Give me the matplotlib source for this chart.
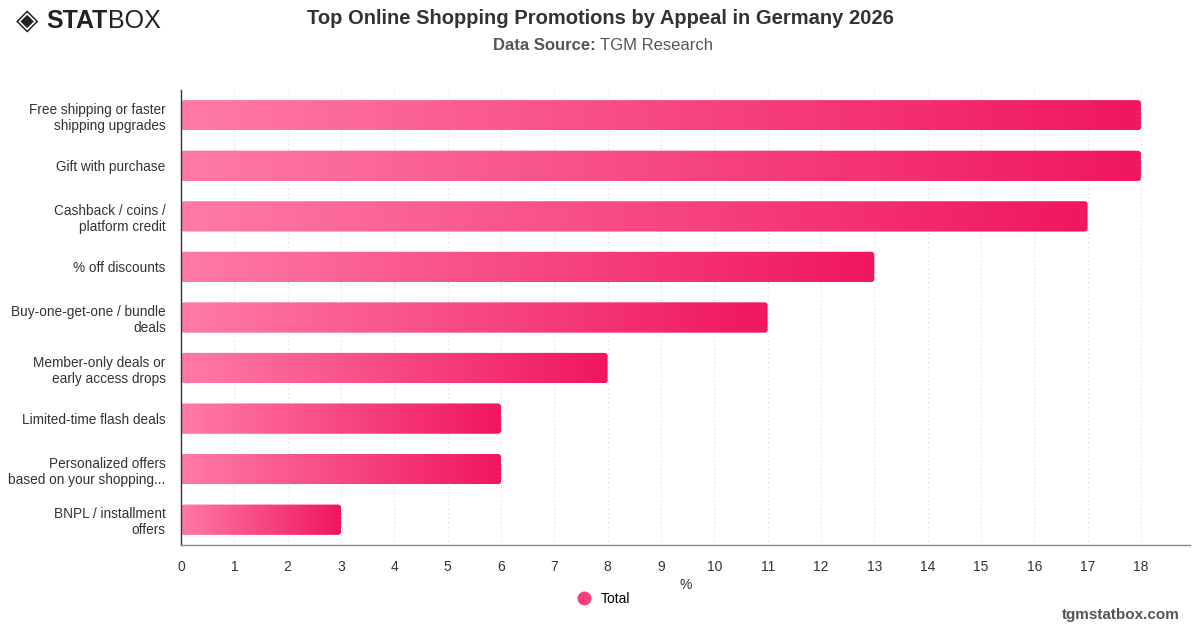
import matplotlib
matplotlib.use("Agg")
import matplotlib.pyplot as plt
import numpy as np
from matplotlib.colors import LinearSegmentedColormap
from matplotlib.patches import FancyBboxPatch
from matplotlib.lines import Line2D

plt.rcParams["font.family"] = ["Liberation Sans", "DejaVu Sans"]

categories = [
    "Free shipping or faster\nshipping upgrades",
    "Gift with purchase",
    "Cashback / coins /\nplatform credit",
    "% off discounts",
    "Buy-one-get-one / bundle\ndeals",
    "Member-only deals or\nearly access drops",
    "Limited-time flash deals",
    "Personalized offers\nbased on your shopping...",
    "BNPL / installment\noffers",
]
values = [18, 18, 17, 13, 11, 8, 6, 6, 3]
xticks = list(range(0, 19))

cmap = LinearSegmentedColormap.from_list("pinks", ["#ff7aa8", "#f0165f"])

fig = plt.figure(figsize=(12, 6.28), dpi=100)
ax = fig.add_axes([181 / 1200, 1 - 545 / 628, (1190 - 181) / 1200, (545 - 90) / 628])

n = len(categories)
bar_h = 0.6
grad = np.linspace(0, 1, 256).reshape(1, -1)
for i, v in enumerate(values):
    patch = FancyBboxPatch((0, i - bar_h / 2), v, bar_h,
                           boxstyle="round,pad=0,rounding_size=0.06",
                           mutation_aspect=0.9,
                           facecolor="none", edgecolor="none")
    ax.add_patch(patch)
    im = ax.imshow(grad, cmap=cmap, aspect="auto",
                   extent=(0, v, i + bar_h / 2, i - bar_h / 2), zorder=2)
    im.set_clip_path(patch)
ax.set_xlim(0, 18.92)
ax.set_ylim(n - 0.5, -0.5)

ax.set_yticks(range(n))
ax.set_yticklabels(categories, fontsize=9.8, color="#333333")
ax.set_xticks(xticks)
ax.set_xticklabels([str(t) for t in xticks], fontsize=10, color="#333333")
ax.tick_params(axis="x", length=0, pad=11)
ax.tick_params(axis="y", length=0, pad=11)
for lbl in ax.get_yticklabels():
    lbl.set_horizontalalignment("right")
    lbl.set_multialignment("right")

ax.grid(axis="x", color="#d9d9d9", linestyle=(0, (1, 3)), linewidth=0.8, zorder=0)
ax.set_axisbelow(True)
for s in ["top", "right"]:
    ax.spines[s].set_visible(False)
ax.spines["left"].set_color("#333333")
ax.spines["left"].set_linewidth(1.0)
ax.spines["bottom"].set_color("#888888")
ax.spines["bottom"].set_linewidth(1.0)

ax.set_xlabel("%", fontsize=10, color="#333333", labelpad=3)

fig.text(600 / 1200, 1 - 18 / 628, "Top Online Shopping Promotions by Appeal in Germany 2026",
         ha="center", va="center", fontsize=14.5, fontweight="bold", color="#333333")
fig.text(600 / 1200, 1 - 45 / 628, "Data Source: ", ha="right", va="center",
         fontsize=12, fontweight="bold", color="#555555")
fig.text(600 / 1200, 1 - 45 / 628, "TGM Research", ha="left", va="center",
         fontsize=12, color="#555555")

# legend
handle = Line2D([], [], marker="o", linestyle="none", markersize=9,
                markerfacecolor="#f5407f", markeredgecolor="#f5407f")
fig.legend([handle], ["Total"], loc="center", bbox_to_anchor=(600 / 1200, 1 - 599 / 628),
           frameon=False, fontsize=10, handletextpad=0.2)

# logo
fig.text(16 / 1200, 1 - 21 / 628, "◈", ha="left", va="center", fontsize=21,
         color="#222222", family="DejaVu Sans")
stat = fig.text(46 / 1200, 1 - 21 / 628, "STAT", ha="left", va="center", fontsize=18,
                fontweight="bold", color="#222222")
renderer = fig.canvas.get_renderer()
bb = stat.get_window_extent(renderer)
fig.text(bb.x1 / 1200 + 1 / 1200, 1 - 21 / 628, "BOX", ha="left", va="center", fontsize=18,
         color="#222222")

fig.text(1180 / 1200, 1 - 615 / 628, "tgmstatbox.com", ha="right", va="center",
         fontsize=11, fontweight="bold", color="#555555")

fig.savefig("out.png", dpi=100)
